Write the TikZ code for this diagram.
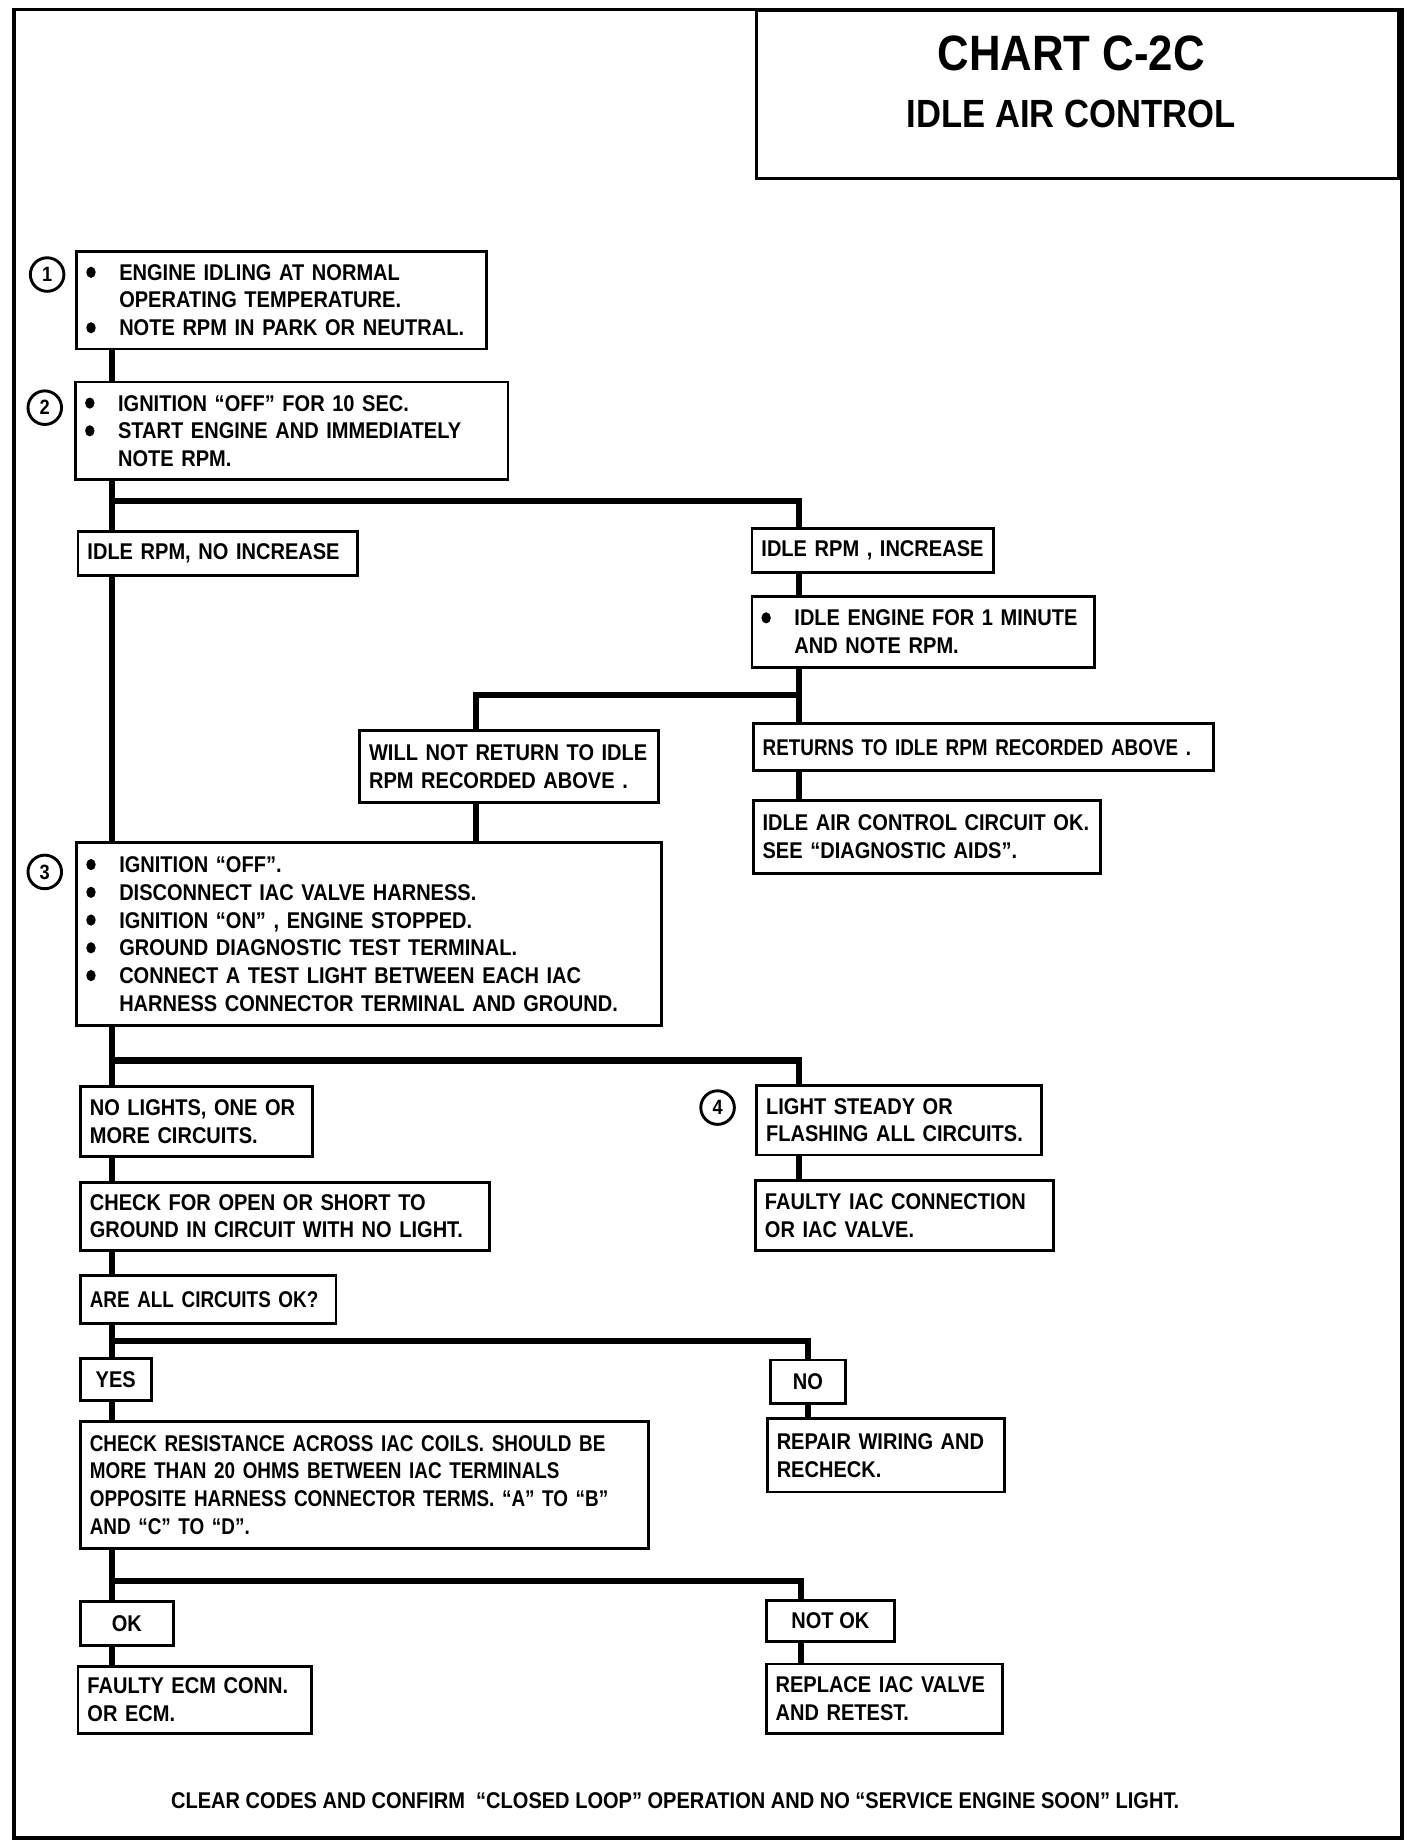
\documentclass[tikz,border=0pt]{standalone}
\usepackage{fontspec}
\setmainfont{Liberation Sans}[FakeStretch=0.88]
\newfontfamily\tightfont{Liberation Sans}[FakeStretch=0.83]
\newcommand\bul{\makebox[0.56cm][l]{\tikz[baseline={(0,-0.135cm)}]\fill (0.08cm,0) ellipse (0.08cm and 0.095cm);}}
\newcommand\ind{\hspace*{0.56cm}}

\begin{document}
\begin{tikzpicture}[x=0.02cm,y=-0.02cm,line join=miter,
	box/.style={draw,line width=1.4pt,anchor=north west,align=left,inner xsep=0.16cm,inner ysep=0pt,
		font=\fontsize{11}{13.4}\selectfont\bfseries},
	tag/.style={draw,line width=1.4pt,anchor=north west,inner sep=0pt,font=\fontsize{11}{13.4}\selectfont\bfseries},
	num/.style={circle,draw,line width=1.4pt,minimum size=0.57cm,inner sep=0pt,font=\fontsize{10}{10}\selectfont\bfseries},
	link/.style={line width=3.1pt}]
	\useasboundingbox (0,0) rectangle (1195,1565);
	\draw[line width=1.8pt] (12,8) rectangle (1190,1560);

	% title
	\node[draw,line width=1.4pt,anchor=north west,minimum width=10.90cm,minimum height=2.84cm] (title) at (641,8) {};
	\node[font=\fontsize{24}{24}\selectfont\bfseries] (head) at (909,45) {CHART C-2C};
	\node[font=\fontsize{19}{19}\selectfont\bfseries] (subhead) at (909,97) {IDLE AIR CONTROL};

	\coordinate (trunk) at (95,0);
	\coordinate (rcol) at (678,0);
	\coordinate (mcol) at (404,0);
	\coordinate (ncol) at (680,0);
	\coordinate (br1) at (95,425);
	\coordinate (br2) at (678,590);
	\coordinate (br3) at (95,900);
	\coordinate (br4) at (95,1138);
	\coordinate (br5) at (95,1342);

	\node[box,text width=6.64cm,minimum height=1.66cm] (s1) at (64,212)
		{\bul ENGINE IDLING AT NORMAL\\ \ind OPERATING TEMPERATURE.\\ \bul NOTE RPM IN PARK OR NEUTRAL.};
	\node[num] (c1) at (40,233) {1};
	\node[box,text width=7.02cm,minimum height=1.66cm] (s2) at (63,323)
		{\bul IGNITION “OFF” FOR 10 SEC.\\ \bul START ENGINE AND IMMEDIATELY\\ \ind NOTE RPM.};
	\node[num] (c2) at (38,346) {2};
	\node[box,text width=4.42cm,minimum height=0.74cm] (noinc) at (65,450) {IDLE RPM, NO INCREASE};
	\node[box,text width=3.78cm,minimum height=0.76cm] (inc) at (637,447) {IDLE RPM , INCREASE};
	\node[box,text width=5.50cm,minimum height=1.20cm] (idle) at (637,505)
		{\bul IDLE ENGINE FOR 1 MINUTE\\ \ind AND NOTE RPM.};
	\node[box,text width=4.76cm,minimum height=1.22cm] (noret) at (304,619)
		{WILL NOT RETURN TO IDLE\\ RPM RECORDED ABOVE .};
	\node[box,text width=7.50cm,minimum height=0.80cm,font=\fontsize{11}{13.4}\tightfont\bfseries] (ret) at (638,613)
		{RETURNS TO IDLE RPM RECORDED ABOVE .};
	\node[box,text width=5.58cm,minimum height=1.24cm] (iacok) at (638,678)
		{IDLE AIR CONTROL CIRCUIT OK.\\ SEE “DIAGNOSTIC AIDS”.};
	\node[box,text width=9.60cm,minimum height=3.10cm] (s3) at (64,714)
		{\bul IGNITION “OFF”.\\ \bul DISCONNECT IAC VALVE HARNESS.\\ \bul IGNITION “ON” , ENGINE STOPPED.\\
		 \bul GROUND DIAGNOSTIC TEST TERMINAL.\\ \bul CONNECT A TEST LIGHT BETWEEN EACH IAC\\
		 \ind HARNESS CONNECTOR TERMINAL AND GROUND.};
	\node[num] (c3) at (38,740) {3};
	\node[box,text width=3.62cm,minimum height=1.18cm] (nolight) at (67,921)
		{NO LIGHTS, ONE OR\\ MORE CIRCUITS.};
	\node[box,text width=4.52cm,minimum height=1.18cm] (light) at (641,920)
		{LIGHT STEADY OR\\ FLASHING ALL CIRCUITS.};
	\node[num] (c4) at (609,940) {4};
	\node[box,text width=6.62cm,minimum height=1.16cm] (check) at (67,1002)
		{CHECK FOR OPEN OR SHORT TO\\ GROUND IN CIRCUIT WITH NO LIGHT.};
	\node[box,text width=4.74cm,minimum height=1.18cm] (faulty) at (640,1001)
		{FAULTY IAC CONNECTION\\ OR IAC VALVE.};
	\node[box,text width=4.02cm,minimum height=0.82cm,font=\fontsize{11}{13.4}\tightfont\bfseries] (allok) at (67,1081)
		{ARE ALL CIRCUITS OK?};
	\node[tag,minimum width=1.20cm,minimum height=0.70cm] (yes) at (67,1152) {YES};
	\node[tag,minimum width=1.26cm,minimum height=0.74cm] (no) at (653,1153) {NO};
	\node[box,text width=9.32cm,minimum height=2.16cm,font=\fontsize{11}{13.4}\tightfont\bfseries] (resist) at (67,1205)
		{CHECK RESISTANCE ACROSS IAC COILS. SHOULD BE\\ MORE THAN 20 OHMS BETWEEN IAC TERMINALS\\
		 OPPOSITE HARNESS CONNECTOR TERMS. “A” TO “B”\\ AND “C” TO “D”.};
	\node[box,text width=3.70cm,minimum height=1.24cm] (repair) at (650,1203)
		{REPAIR WIRING AND\\ RECHECK.};
	\node[tag,minimum width=1.58cm,minimum height=0.74cm] (ok) at (67,1358) {OK};
	\node[tag,minimum width=2.18cm,minimum height=0.70cm] (notok) at (649,1357) {NOT OK};
	\node[box,text width=3.64cm,minimum height=1.14cm] (ecm) at (65,1413)
		{FAULTY ECM CONN.\\ OR ECM.};
	\node[box,text width=3.70cm,minimum height=1.18cm] (replace) at (649,1411)
		{REPLACE IAC VALVE\\ AND RETEST.};
	\node[font=\fontsize{11}{13}\selectfont\bfseries] (note) at (573,1528)
		{CLEAR CODES AND CONFIRM \ “CLOSED LOOP” OPERATION AND NO “SERVICE ENGINE SOON” LIGHT.};

	\draw[link] (s1.south -| trunk) -- (s2.north -| trunk);
	\draw[link] (s2.south -| trunk) -- (noinc.north -| trunk);
	\draw[link] (br1) -| (inc.north -| rcol);
	\draw[link] (inc.south -| rcol) -- (idle.north -| rcol);
	\draw[link] (idle.south -| rcol) -- (ret.north -| rcol);
	\draw[link] (br2) -| (noret.north -| mcol);
	\draw[link] (ret.south -| rcol) -- (iacok.north -| rcol);
	\draw[link] (noret.south -| mcol) -- (s3.north -| mcol);
	\draw[link] (noinc.south -| trunk) -- (s3.north -| trunk);
	\draw[link] (s3.south -| trunk) -- (nolight.north -| trunk);
	\draw[link] (br3) -| (light.north -| rcol);
	\draw[link] (light.south -| rcol) -- (faulty.north -| rcol);
	\draw[link] (nolight.south -| trunk) -- (check.north -| trunk);
	\draw[link] (check.south -| trunk) -- (allok.north -| trunk);
	\draw[link] (allok.south -| trunk) -- (yes.north -| trunk);
	\draw[link] (br4) -| (no.north);
	\draw[link] (no.south) -- (no.south |- repair.north);
	\draw[link] (yes.south -| trunk) -- (resist.north -| trunk);
	\draw[link] (resist.south -| trunk) -- (ok.north -| trunk);
	\draw[link] (br5) -| (notok.north -| ncol);
	\draw[link] (notok.south -| ncol) -- (replace.north -| ncol);
	\draw[link] (ok.south -| trunk) -- (ecm.north -| trunk);
\end{tikzpicture}
\end{document}
